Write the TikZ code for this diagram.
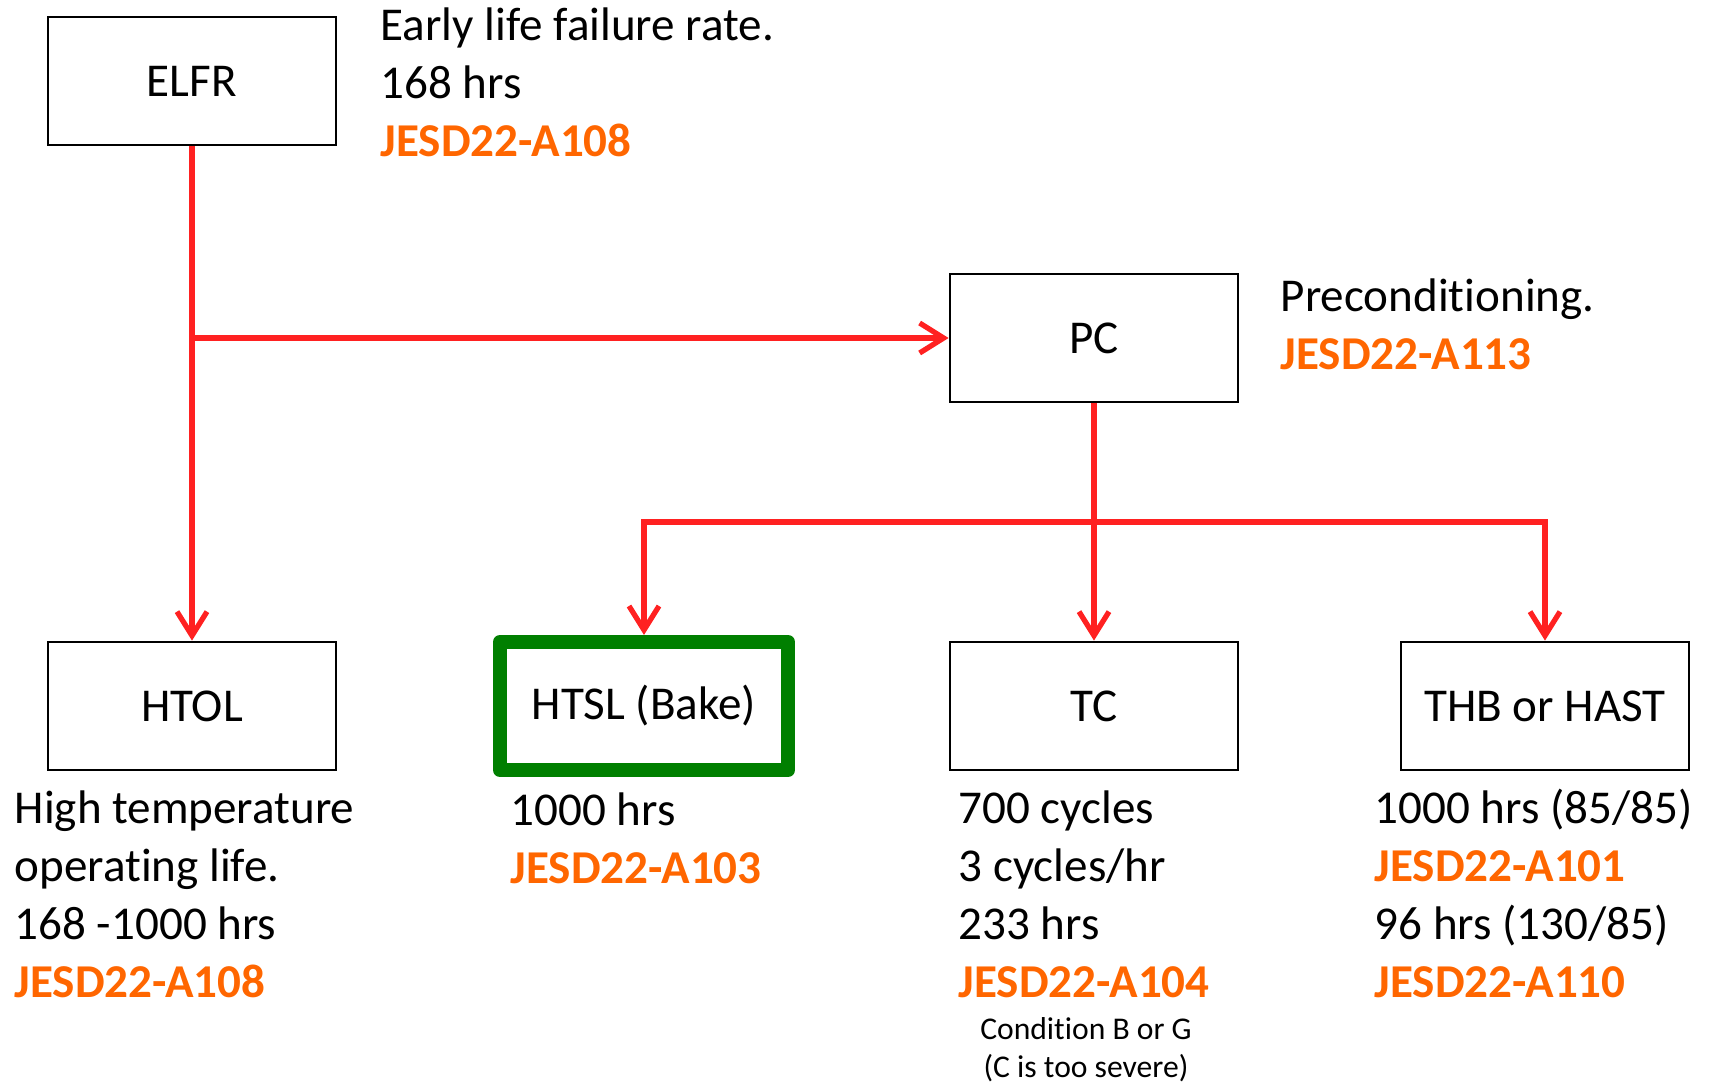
\documentclass[tikz,border=0pt]{standalone}
\usepackage{fontspec}
\setmainfont{Carlito}[Ligatures=NoCommon]
\usetikzlibrary{arrows.meta, positioning, calc}
\definecolor{flowred}{HTML}{FF2121}
\definecolor{stdorange}{HTML}{FF6600}
\definecolor{bakegreen}{HTML}{007F00}
\newcommand{\jesd}[1]{\textcolor{stdorange}{\textbf{JESD22-#1}}}

\begin{document}
\begin{tikzpicture}[font=\fontsize{13.4}{16.5}\selectfont,
    testbox/.style={draw, line width=0.8pt, minimum width=2.88cm,
                    minimum height=1.28cm},
    flow/.style={flowred, line width=1.5pt,
                 -{Straight Barb[length=2.4mm, width=3mm]}},
    note/.style={anchor=base west, align=left, inner sep=0pt}]
  \useasboundingbox (0,0) rectangle (17.12,10.84);
  \node[testbox] (elfr) at (1.92,10.03) {ELFR};
  \node[testbox] (pc) at (10.94,7.46) {PC};
  \node[testbox] (htol) at (1.92,3.78) {HTOL};
  \node[testbox, draw=bakegreen, line width=4pt, line join=round]
    (htsl) at (6.44,3.78) {HTSL (Bake)};
  \node[testbox] (tc) at (10.94,3.78) {TC};
  \node[testbox] (thb) at (15.45,3.78) {THB or HAST};

  \node[note] (elfrnote) at (3.80,9.28)
    {Early life failure rate.\\168 hrs\\\jesd{A108}};
  \node[note] (pcnote) at (12.80,7.15) {Preconditioning.\\\jesd{A113}};
  \node[note] (htolnote) at (0.14,0.87)
    {High temperature\\operating life.\\168 -1000 hrs\\\jesd{A108}};
  \node[note] (htslnote) at (5.10,2.01) {1000 hrs\\\jesd{A103}};
  \node[note] (tcnote) at (9.58,0.87)
    {700 cycles\\3 cycles/hr\\233 hrs\\\jesd{A104}};
  \node[note, anchor=base, align=center, font=\fontsize{9}{10.8}\selectfont]
    (tccond) at (10.86,0.07) {Condition B or G\\(C is too severe)};
  \node[note] (thbnote) at (13.74,0.87)
    {1000 hrs (85/85)\\\jesd{A101}\\96 hrs (130/85)\\\jesd{A110}};

  \coordinate (tap) at (elfr.south |- pc.west);
  \coordinate (split) at ($(pc.south)!0.5!(tc.north)$);
  \draw[flow] (elfr) -- (htol);
  \draw[flow] (tap) -- (pc);
  \draw[flow] (pc) -- (tc);
  \draw[flow] (split) -| (htsl);
  \draw[flow] (split) -| (thb);
\end{tikzpicture}
\end{document}
